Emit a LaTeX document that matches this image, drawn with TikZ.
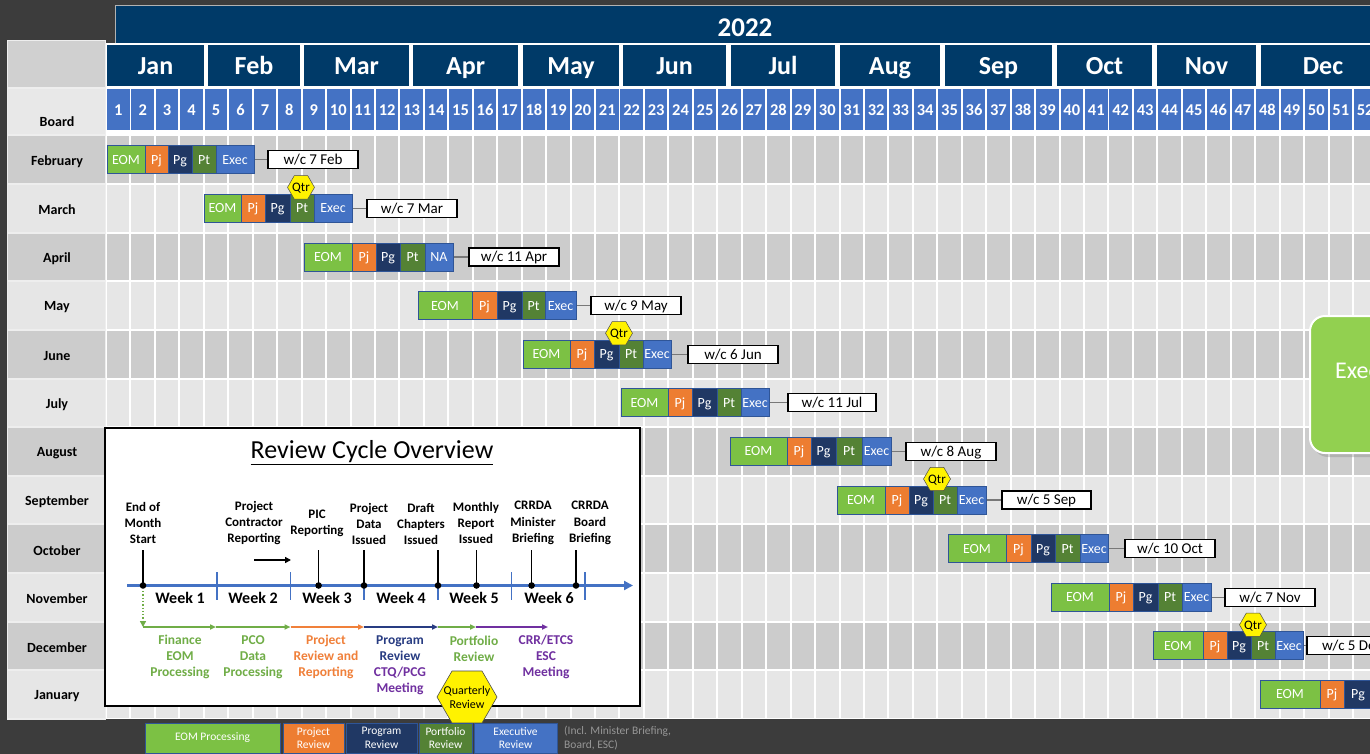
\documentclass[tikz,border=0pt]{standalone}
\usepackage{fontspec}
\setmainfont{Carlito}
\usetikzlibrary{shapes.geometric,arrows.meta,shadows}

\definecolor{bgdark}{RGB}{60,60,60}
\definecolor{hdrnavy}{RGB}{0,58,104}
\definecolor{wkblue}{RGB}{68,114,196}
\definecolor{rowdark}{RGB}{204,204,204}
\definecolor{rowlight}{RGB}{230,230,230}
\definecolor{framegray}{RGB}{238,238,238}
\definecolor{cornergray}{RGB}{208,208,208}
\definecolor{boardgray}{RGB}{232,232,232}
\definecolor{eomgreen}{RGB}{124,193,68}
\definecolor{pjorange}{RGB}{237,125,49}
\definecolor{pgnavy}{RGB}{32,56,100}
\definecolor{ptgreen}{RGB}{84,130,53}
\definecolor{execblue}{RGB}{68,114,196}
\definecolor{barline}{RGB}{47,85,151}
\definecolor{bigexec}{RGB}{146,208,80}
\definecolor{txtgreen}{RGB}{112,173,71}
\definecolor{txtorange}{RGB}{240,128,58}
\definecolor{txtnavy}{RGB}{40,60,130}
\definecolor{txtpurple}{RGB}{112,48,160}
\definecolor{legendgray}{RGB}{150,150,150}
\definecolor{connGray}{RGB}{120,120,120}

\begin{document}
\begin{tikzpicture}[x=1pt,y=-1pt,
  yearbox/.style={fill=hdrnavy, draw=gray!60, line width=0.8pt,
    minimum width=1260, minimum height=38, inner sep=0},
  yeartxt/.style={text=white, font=\fontsize{27}{29}\selectfont\bfseries,
    text height=17.2, text depth=0, inner sep=0},
  monthbox/.style={fill=hdrnavy, text=white, font=\fontsize{26}{28}\selectfont\bfseries,
    minimum height=41, inner sep=0, text height=16.7, text depth=0},
  weekcell/.style={fill=wkblue, text=white, font=\fontsize{16.5}{19}\selectfont\bfseries,
    minimum width=22.5, minimum height=41, inner sep=0, text height=10.4, text depth=0},
  rowlbl/.style={font=\fontsize{14}{16}\selectfont\bfseries, inner sep=0},
  seg/.style={draw=barline, line width=1pt, text=white, font=\fontsize{14}{16}\selectfont,
    minimum height=28, inner sep=0, text height=9, text depth=0},
  wclabel/.style={draw=black, fill=white, line width=1.1pt, font=\fontsize{15}{17}\selectfont,
    minimum height=18, inner sep=0, text height=9.7, text depth=0},
  conn/.style={draw=connGray, line width=1.1pt},
  qtrhex/.style={regular polygon, regular polygon sides=6, fill=yellow, draw=gray!60!black,
    line width=0.5pt, minimum size=27, inner sep=0},
  qtrtxt/.style={font=\fontsize{13}{14}\selectfont, inner sep=0, text height=8.4, text depth=0},
  evt/.style={font=\fontsize{13}{16.3}\selectfont\bfseries, align=center, inner sep=0},
  weeklbl/.style={font=\fontsize{16}{18}\selectfont\bfseries, inner sep=0},
  axisline/.style={draw=wkblue, line width=2.2pt, -{Triangle[length=9pt,width=9pt]}},
  tickline/.style={draw=wkblue, line width=1.2pt},
  markline/.style={draw=black, line width=1.4pt},
  flow/.style={line width=1.5pt, -{Triangle[length=6pt,width=5pt]}},
  flowlbl/.style={font=\fontsize{13.5}{16}\selectfont\bfseries, align=center, inner sep=0},
  legbox/.style={draw=barline, line width=1pt, text=white, font=\fontsize{11.5}{13.5}\selectfont,
    minimum height=30, align=center, inner sep=0}
]
\useasboundingbox (0,0) rectangle (1370,754);
\clip (0,0) rectangle (1370,754);
\fill[bgdark] (0,0) rectangle (1370,754);

% ---------- year banner ----------
\node[yearbox] (year) at (745,24) {};
\node[yeartxt] (yeartext) at (745,27.5) {2022};

% ---------- header background, months, week numbers ----------
\fill[white] (106,43) rectangle (1370,136);
\foreach \a/\b/\m in {107/204/Jan,208/300/Feb,304/409/Mar,413/518/Apr,523/619/May,623/726/Jun,
                      731/835/Jul,840/940/Aug,945/1052/Sep,1057/1152/Oct,1157/1256/Nov,1261/1385/Dec}{
  \node[monthbox, minimum width={\b-\a}] (m-\m) at ({(\a+\b)/2},66) {\m};
}
\foreach \k in {1,...,52}{
  \node[weekcell] (w\k) at ({107+(\k-1)*24.45+11.25},110) {\k};
}

% ---------- left column ----------
\fill[framegray] (7,40) rectangle (106,720);
\fill[cornergray] (8,41) rectangle (105,87);
\fill[boardgray] (8,89) rectangle (105,134);
\node[rowlbl] (board) at (57,122) {Board};

% ---------- body grid ----------
\fill[white] (106,134) rectangle (1370,719);
\foreach \i/\nm in {0/February,1/March,2/April,3/May,4/June,5/July,6/August,
                    7/September,8/October,9/November,10/December,11/January}{
  \ifodd\i \def\rc{rowlight}\else\def\rc{rowdark}\fi
  \pgfmathsetmacro{\yt}{136.5+48.6*\i}
  \fill[\rc] (107,\yt) rectangle (1370,{\yt+46.6});
  \fill[\rc] (8,\yt) rectangle (105,{\yt+46.6});
  \node[rowlbl] (r\i) at (57,{\yt+25}) {\nm};
}
\foreach \k in {1,...,52}{
  \draw[white, line width=2pt] ({107+\k*24.45-1},134) -- ({107+\k*24.45-1},719);
}

% ---------- monthly review bars ----------
\foreach \i/\a/\b/\c/\d/\e/\f/\last/\la/\lb/\dy/\mo in {
   0/107/145/168/192/216/254/Exec/268/358/7/Feb,
   1/204/241/265/290/314/352/Exec/367/457/7/Mar,
   2/304/352/376/400/425/453/NA/469/559/11/Apr,
   3/418/472/497/522/545/576/Exec/591/681/9/May,
   4/523/570/594/619/643/671/Exec/688/778/6/Jun,
   5/621/668/692/717/741/769/Exec/788/876/11/Jul,
   6/730/787/811/836/862/891/Exec/906/996/8/Aug,
   7/837/885/909/933/957/986/Exec/1002/1091/5/Sep,
   8/948/1006/1031/1055/1080/1108/Exec/1125/1215/10/Oct,
   9/1051/1109/1133/1158/1182/1211/Exec/1225/1315/7/Nov,
   10/1153/1203/1227/1251/1275/1303/Exec/1307/1397/5/Dec}{
  \pgfmathsetmacro{\yc}{136.5+48.6*\i+23.3}
  \node[seg, fill=eomgreen, minimum width={\b-\a}] (eom\i) at ({(\a+\b)/2},\yc) {EOM};
  \node[seg, fill=pjorange, minimum width={\c-\b}] (pj\i) at ({(\b+\c)/2},\yc) {Pj};
  \node[seg, fill=pgnavy, minimum width={\d-\c}] (pg\i) at ({(\c+\d)/2},\yc) {Pg};
  \node[seg, fill=ptgreen, minimum width={\e-\d}] (pt\i) at ({(\d+\e)/2},\yc) {Pt};
  \node[seg, fill=execblue, minimum width={\f-\e}] (ex\i) at ({(\e+\f)/2},\yc) {\last};
  \node[wclabel, minimum width={\lb-\la}] (wc\i) at ({(\la+\lb)/2},\yc) {w/c \dy\ \mo};
  \draw[conn] (ex\i.east) -- (wc\i.west);
}
% next January cycle, running off the right edge
\node[seg, fill=eomgreen, minimum width=60] (eom11) at (1290,694.4) {EOM};
\node[seg, fill=pjorange, minimum width=24] (pj11) at (1332,694.4) {Pj};
\node[seg, fill=pgnavy, minimum width=28] (pg11) at (1358,694.4) {Pg};

% quarterly markers
\foreach \i/\x in {1/301,4/619,7/937,10/1253}{
  \pgfmathsetmacro{\yq}{136.5+48.6*\i+23.3-21}
  \node[qtrhex] (qh\i) at (\x,\yq) {};
  \node[qtrtxt] (qt\i) at (qh\i) {Qtr};
}

% ---------- executive callout ----------
\node[fill=bigexec, draw=white, line width=2pt, rounded corners=15,
      minimum width=120, minimum height=137, inner sep=0,
      drop shadow={opacity=0.35, shadow xshift=3pt, shadow yshift=-4pt}] (bigex) at (1370,384.5) {};
\node[anchor=west, text=white, font=\fontsize{24}{26}\selectfont, inner sep=0] (bigextxt) at (1335,371) {Exec};

% ---------- review cycle overview ----------
\node[draw=black, line width=1.4pt, fill=white, minimum width=535, minimum height=278, inner sep=0] (inset) at (372.5,567) {};
\node[font=\fontsize{26}{28}\selectfont, inner sep=0] (title) at (372,453) {\underline{Review Cycle Overview}};

\coordinate (axs) at (127,585.5);
\coordinate (axe) at (633,585.5);
\draw[axisline] (axs) -- (axe);
\foreach \x [count=\n] in {217,290.5,364,438,511.6,585}{
  \coordinate (tk\n) at (\x,572);
  \coordinate (tb\n) at (\x,600);
  \draw[tickline] (tk\n) -- (tb\n);
}
\foreach \x/\n in {180/1,253/2,327/3,401/4,474/5,549/6}{
  \node[weeklbl] (wk\n) at (\x,598) {Week \n};
}
\foreach \x [count=\n] in {143,318.6,364,438,476.5,531.6,576}{
  \coordinate (mk\n) at (\x,585.5);
  \coordinate (mt\n) at (\x,550);
  \draw[markline] (mt\n) -- (mk\n);
  \fill[black] (mk\n) circle (3.3);
}
\node[evt] (ev1) at (143,523) {End of\\Month\\Start};
\node[evt] (ev2) at (254,523) {Project\\Contractor\\Reporting};
\node[evt] (ev3) at (317,523) {PIC\\Reporting};
\node[evt] (ev4) at (369,524) {Project\\Data\\Issued};
\node[evt] (ev5) at (421,524) {Draft\\Chapters\\Issued};
\node[evt] (ev6) at (476,523) {Monthly\\Report\\Issued};
\node[evt] (ev7) at (533,523) {CRRDA\\Minister\\Briefing};
\node[evt] (ev8) at (590,523) {CRRDA\\Board\\Briefing};

\coordinate (pa) at (254,560);
\coordinate (pb) at (291,560);
\draw[line width=1.5pt, -{Triangle[length=6pt,width=6pt]}] (pa) -- (pb);

% hand-over flow under the axis
\coordinate (dtop) at (143,591);
\coordinate (f0) at (143,627);
\coordinate (f1) at (216,627);
\coordinate (f2) at (290.5,627);
\coordinate (f3) at (364,627);
\coordinate (f4) at (438,627);
\coordinate (f5) at (476,627);
\coordinate (f6) at (548,627);
\draw[txtgreen, line width=1.3pt, dotted, -{Triangle[length=6pt,width=6pt]}] (dtop) -- (f0);
\draw[flow, txtgreen] (f0) -- (f1);
\draw[flow, txtgreen] (f1) -- (f2);
\draw[flow, txtorange] (f2) -- (f3);
\draw[flow, txtnavy] (f3) -- (f4);
\draw[flow, txtgreen] (f4) -- (f5);
\draw[flow, txtpurple] (f5) -- (f6);

\node[flowlbl, text=txtgreen] (fl1) at (180,657) {Finance\\EOM\\Processing};
\node[flowlbl, text=txtgreen] (fl2) at (253,657) {PCO\\Data\\Processing};
\node[flowlbl, text=txtorange] (fl3) at (326,657) {Project\\Review and\\Reporting};
\node[flowlbl] (fl4) at (400,665) {\textcolor{txtnavy}{Program}\\\textcolor{txtnavy}{Review}\\\textcolor{txtpurple}{CTQ/PCG}\\\textcolor{txtpurple}{Meeting}};
\node[flowlbl, text=txtgreen] (fl5) at (474,649) {Portfolio\\Review};
\node[flowlbl, text=txtpurple] (fl6) at (546,657) {CRR/ETCS\\ESC\\Meeting};

\node[regular polygon, regular polygon sides=6, fill=yellow, draw=gray!60!black, line width=0.6pt,
      minimum size=60, inner sep=0] (qrhex) at (467,697) {};
\node[font=\fontsize{12}{14}\selectfont, align=center, inner sep=0] (qrtxt) at (qrhex) {Quarterly\\Review};

% ---------- legend ----------
\node[legbox, fill=eomgreen, minimum width=135] (lg1) at (212.5,738) {EOM Processing};
\node[legbox, fill=pjorange, minimum width=61] (lg2) at (313.5,738) {Project\\Review};
\node[legbox, fill=pgnavy, minimum width=71] (lg3) at (381.5,738) {Program\\Review};
\node[legbox, fill=ptgreen, minimum width=53] (lg4) at (445.5,738) {Portfolio\\Review};
\node[legbox, fill=execblue, minimum width=83] (lg5) at (515.5,738) {Executive\\Review};
\node[anchor=west, text=legendgray, font=\fontsize{11.5}{13.5}\selectfont, align=left, inner sep=0] (lg6) at (564,738) {(Incl. Minister Briefing,\\Board, ESC)};
\end{tikzpicture}
\end{document}
